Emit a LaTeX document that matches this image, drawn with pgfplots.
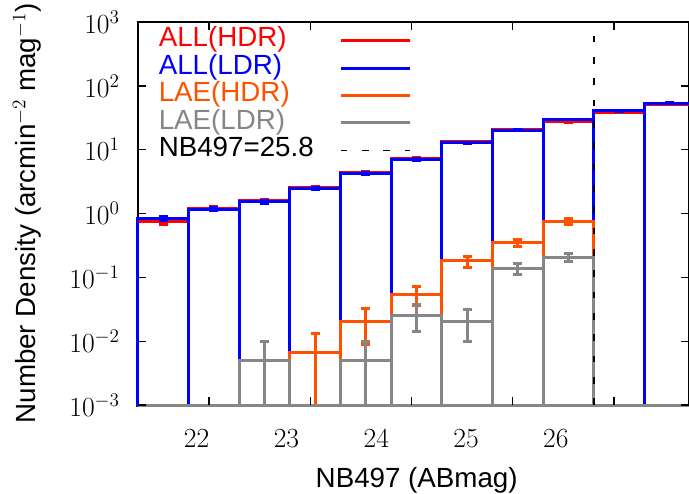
\documentclass[border=0pt]{standalone}
\usepackage{fontspec}
\setmainfont{Liberation Sans}
\usepackage{pgfplots}
\usepackage{pgfplotstable}
\pgfplotsset{compat=1.18}

\definecolor{allhdr}{HTML}{FF0000}
\definecolor{allldr}{HTML}{0000FF}
\definecolor{laehdr}{HTML}{FF5200}
\definecolor{laeldr}{HTML}{868686}

\newcommand{\lf}{\fontsize{20.8}{24}\selectfont}

% bins of 0.5 mag; value 0.001 = empty bin (sits on the bottom of the axis)
% lo = left bin edge, x = bin centre; last row only closes the last interval
\pgfplotstableread{
lo   x     allh  allhe alll  allle laeh   laehp  laehm  lael  laelp laelm
21.3 21.55 0.74  0.07  0.84  0.05  0.001  0      0      0.001 0     0
21.8 22.05 1.20  0.08  1.17  0.07  0.001  0      0      0.001 0     0
22.3 22.55 1.57  0.09  1.52  0.08  0.001  0      0      0.005 0.005 0.004
22.8 23.05 2.55  0.13  2.45  0.10  0.0067 0.0063 0.0057 0.001 0     0
23.3 23.55 4.35  0.18  4.20  0.13  0.020  0.012  0.011  0.005 0.005 0.004
23.8 24.05 7.25  0.25  7.00  0.18  0.053  0.018  0.017  0.025 0.012 0.011
24.3 24.55 13.3  0.35  12.9  0.25  0.181  0.034  0.039  0.020 0.011 0.010
24.8 25.05 20.6  0.45  20.1  0.3   0.347  0.043  0.047  0.138 0.027 0.026
25.3 25.55 27.6  0.55  29.8  0.35  0.76   0.09   0.09   0.205 0.031 0.025
25.8 26.05 38.6  0.6   40.4  0.4   0.001  0      0      0.001 0     0
26.3 26.55 51.0  0.7   53.8  0.45  0.001  0      0      0.001 0     0
26.8 27.05 51.0  0     53.8  0     0.001  0      0      0.001 0     0
}\bins

\pgfplotsset{
  histo/.style={ybar interval, forget plot, draw=#1, fill=none, line width=2.25pt},
  errs/.style={forget plot, draw=none, mark=none,
    error bars/.cd, y dir=both, y explicit,
    error bar style={draw=#1, line width=2.25pt, solid},
    error mark=-,
    error mark options={rotate=90, draw=#1, line width=2.25pt, mark size=3.4pt}},
}

\begin{document}
\begin{tikzpicture}
\begin{axis}[
    name=ax,
    scale only axis,
    width=413.25pt, height=287.25pt,
    ymode=log, log origin y=infty,
    xmin=21.3, xmax=26.74,
    ymin=1e-3, ymax=1e3,
    clip=false,
    axis line style={black, line width=0.8pt},
    every tick/.append style={black, line width=1pt},
    major tick length=6pt,
    tick align=inside,
    xtick={22,23,24,25,26},
    % the labels of the original sit left of their ticks, more so to the right
    xticklabel={\pgfmathsetmacro\sh{18.4+17.2*(\tick-22)}\makebox[0pt]{\pgfmathprintnumber{\tick}\kern\sh pt}},
    ytick={1e-3,1e-2,1e-1,1,10,100,1000},
    yminorticks=false,
    tick label style={font=\lf},
    xticklabel style={anchor=base, yshift=-31.5pt, inner sep=0pt},
    yticklabel style={anchor=east, inner sep=0pt, xshift=-13.5pt},
    xticklabel pos=lower, yticklabel pos=left,
    xlabel={NB497 (ABmag)},
    ylabel={Number Density (arcmin$^{-2}$ mag$^{-1}$)},
    every axis x label/.style={at={([xshift=2.4pt,yshift=-61.5pt]axis description cs:0.5,0)}, anchor=base, font=\lf},
    every axis y label/.style={at={([xshift=-77pt]axis description cs:0,0.5)}, rotate=90, anchor=base, font=\lf},
    legend image code/.code={\draw[#1] (0pt,0pt) -- (52pt,0pt);},
    legend plot pos=right,
    legend cell align=left,
    legend style={at={(0.03,0.995)}, anchor=north west, draw=none, fill=none,
      font=\lf, row sep=0pt, column sep=19pt,
      nodes={inner sep=0pt, text height=15pt, text depth=5.6pt}},
    % tick marks on all four sides, drawn over the histograms
    after end axis/.code={
      \foreach \t in {22,23,24,25,26} {
        \draw[black, line width=1pt] (axis cs:\t,1e-3) -- ++(0pt,6pt);
        \draw[black, line width=1pt] (axis cs:\t,1e3) -- ++(0pt,-6pt);
      }
      \foreach \e in {-3,-2,-1,0,1,2,3} {
        \draw[black, line width=1pt] (axis cs:21.3,1e\e) -- ++(6pt,0pt);
        \draw[black, line width=1pt] (axis cs:26.74,1e\e) -- ++(-6pt,0pt);
      }
    },
  ]

  \addlegendimage{allhdr, line width=2.25pt}
  \addlegendentry{\textcolor{allhdr}{ALL(HDR)}}
  \addlegendimage{allldr, line width=2.25pt}
  \addlegendentry{\textcolor{allldr}{ALL(LDR)}}
  \addlegendimage{laehdr, line width=2.25pt}
  \addlegendentry{\textcolor{laehdr}{LAE(HDR)}}
  \addlegendimage{laeldr, line width=2.25pt}
  \addlegendentry{\textcolor{laeldr}{LAE(LDR)}}
  \addlegendimage{black, line width=1.2pt, dash pattern=on 5pt off 11pt}
  \addlegendentry{NB497=25.8}

  \addplot[histo=allhdr] table[x=lo, y=allh] {\bins};
  \addplot[errs=allhdr] table[x=x, y=allh, y error plus=allhe, y error minus=allhe] {\bins};
  \addplot[histo=allldr] table[x=lo, y=alll] {\bins};
  \addplot[errs=allldr] table[x=x, y=alll, y error plus=allle, y error minus=allle] {\bins};
  \addplot[histo=laehdr] table[x=lo, y=laeh] {\bins};
  \addplot[errs=laehdr] table[x=x, y=laeh, y error plus=laehp, y error minus=laehm] {\bins};
  \addplot[histo=laeldr] table[x=lo, y=lael] {\bins};
  \addplot[errs=laeldr] table[x=x, y=lael, y error plus=laelp, y error minus=laelm] {\bins};

  % magnitude limit
  \addplot[forget plot, black, line width=1.2pt, dash pattern=on 5pt off 11pt]
    coordinates {(25.8,1e-3) (25.8,1e3)};
\end{axis}
\pgfresetboundingbox
\useasboundingbox ([xshift=-103.5pt,yshift=-66pt]ax.south west) rectangle ([yshift=16.5pt]ax.north east);
\end{tikzpicture}
\end{document}
